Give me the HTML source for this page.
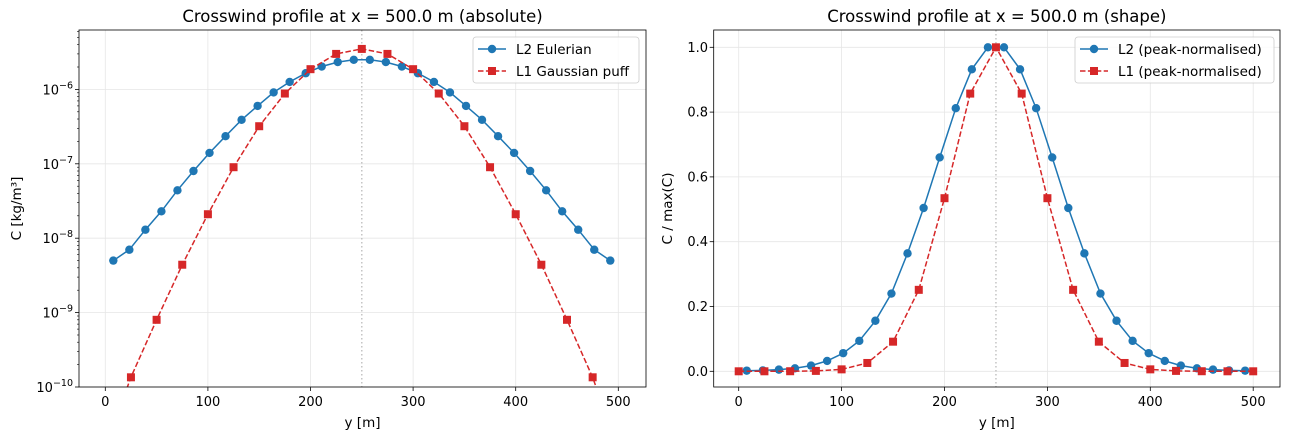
<!DOCTYPE html>
<html><head><meta charset="utf-8"><style>
html,body{margin:0;padding:0;background:#fff;}
svg{display:block;font-family:"DejaVu Sans","Liberation Sans",sans-serif;}
</style></head><body>
<svg id="s" width="1289" height="440" xmlns="http://www.w3.org/2000/svg"></svg>
<script>
const S=document.getElementById('s');let h='';
const L2y=[],L2a=[5e-9,7e-9,1.3e-8,2.3e-8,4.4e-8,8e-8,1.4e-7,2.35e-7,3.9e-7,6e-7,9.1e-7,1.26e-6,1.65e-6,2.03e-6,2.33e-6,2.5e-6];
for(let i=0;i<32;i++)L2y.push((i+0.5)*15.625);
const L2v=L2a.concat(L2a.slice().reverse());
const L1y=[];for(let i=0;i<=20;i++)L1y.push(i*25);
const L1h=[1.5e-11,1.35e-10,8e-10,4.4e-9,2.1e-8,9e-8,3.2e-7,8.8e-7,1.87e-6,3e-6,3.5e-6];
const L1v=L1h.concat(L1h.slice(0,10).reverse());
const m2=2.5e-6,m1=3.5e-6;
const BL='#1f77b4',RD='#d62728';
function panel(x0,x1,y0,y1,xmap,ymap,ticksY,clip,title,ylab,ylx,leg,v2,v1,minor){
 h+=`<clipPath id="${clip}"><rect x="${x0}" y="${y0}" width="${x1-x0}" height="${y1-y0}"/></clipPath>`;
 for(let t=0;t<=500;t+=100){const x=xmap(t);h+=`<line x1="${x}" y1="${y0}" x2="${x}" y2="${y1}" stroke="#e6e6e6" stroke-width="0.8"/>`;
  h+=`<line x1="${x}" y1="${y1}" x2="${x}" y2="${y1+4}" stroke="#000" stroke-width="0.8"/><text x="${x}" y="${y1+19}" font-size="13" text-anchor="middle">${t}</text>`;}
 ticksY.forEach(([v,lab])=>{const y=ymap(v);h+=`<line x1="${x0}" y1="${y}" x2="${x1}" y2="${y}" stroke="#e6e6e6" stroke-width="0.8"/><line x1="${x0-4}" y1="${y}" x2="${x0}" y2="${y}" stroke="#000" stroke-width="0.8"/>`;h+=lab(y);});
 if(minor)minor.forEach(y=>{h+=`<line x1="${x0-2}" y1="${y}" x2="${x0}" y2="${y}" stroke="#000" stroke-width="0.6"/>`;});
 h+=`<line x1="${xmap(250)}" y1="${y0}" x2="${xmap(250)}" y2="${y1}" stroke="#bbb" stroke-width="1.3" stroke-dasharray="1.5,2.5"/>`;
 h+=`<g clip-path="url(#${clip})">`;
 let p=L2y.map((y,i)=>xmap(y).toFixed(1)+','+ymap(v2[i]).toFixed(1)).join(' ');
 h+=`<polyline points="${p}" fill="none" stroke="${BL}" stroke-width="1.5"/>`;
 L2y.forEach((y,i)=>{h+=`<circle cx="${xmap(y)}" cy="${ymap(v2[i])}" r="4.2" fill="${BL}"/>`;});
 p=L1y.map((y,i)=>xmap(y).toFixed(1)+','+ymap(v1[i]).toFixed(1)).join(' ');
 h+=`<polyline points="${p}" fill="none" stroke="${RD}" stroke-width="1.5" stroke-dasharray="5.5,2.4"/>`;
 L1y.forEach((y,i)=>{const yy=ymap(v1[i]);h+=`<rect x="${xmap(y)-4}" y="${yy-4}" width="8" height="8" fill="${RD}"/>`;});
 h+='</g>';
 h+=`<rect x="${x0}" y="${y0}" width="${x1-x0}" height="${y1-y0}" fill="none" stroke="#000" stroke-width="0.8"/>`;
 h+=`<text x="${(x0+x1)/2}" y="${y0-8}" font-size="16.5" text-anchor="middle">${title}</text>`;
 h+=`<text x="${(x0+x1)/2}" y="${y1+40}" font-size="13.5" text-anchor="middle">y [m]</text>`;
 h+=`<text transform="translate(${ylx},${(y0+y1)/2}) rotate(-90)" font-size="13.5" text-anchor="middle" dominant-baseline="central">${ylab}</text>`;
 const lx=leg[0],lw=leg[1];
 h+=`<rect x="${lx}" y="37" width="${lw}" height="46" rx="3" fill="#fff" fill-opacity="0.8" stroke="#ccc" stroke-width="0.8"/>`;
 h+=`<line x1="${lx+5}" y1="49" x2="${lx+33}" y2="49" stroke="${BL}" stroke-width="1.5"/><circle cx="${lx+19}" cy="49" r="4.2" fill="${BL}"/>`;
 h+=`<line x1="${lx+5}" y1="71" x2="${lx+33}" y2="71" stroke="${RD}" stroke-width="1.5" stroke-dasharray="5.5,2.4"/><rect x="${lx+15}" y="67" width="8" height="8" fill="${RD}"/>`;
 h+=`<text x="${lx+43}" y="54" font-size="13.5">${leg[2]}</text><text x="${lx+43}" y="76" font-size="13.5">${leg[3]}</text>`;
}
const xmL=t=>105.3+t*1.026;
const ymL=v=>387-(Math.log10(v)+10)*74.4;
const minL=[];for(let d=-10;d<-5;d++)for(let k=2;k<10;k++){const y=ymL(k*Math.pow(10,d));if(y>=30)minL.push(y);}
panel(79,646,30,387,xmL,ymL,[-10,-9,-8,-7,-6].map(e=>[Math.pow(10,e),y=>`<text x="73" y="${y+5}" font-size="13" text-anchor="end">10<tspan font-size="9.5" dy="-6">${'\u2212'+(-e)}</tspan></text>`]),
 'cL','Crosswind profile at x = 500.0 m (absolute)','C [kg/m³]',17,[473,166,'L2 Eulerian','L1 Gaussian puff'],L2v,L1v,minL);
const xmR=t=>738.7+t*1.029;
const ymR=v=>371.3-v*324;
panel(713.7,1280,30,387,xmR,ymR,[0,0.2,0.4,0.6,0.8,1.0].map(v=>[v,y=>`<text x="708" y="${y+4.5}" font-size="13" text-anchor="end">${v.toFixed(1)}</text>`]),
 'cR','Crosswind profile at x = 500.0 m (shape)','C / max(C)',668,[1075,199,'L2 (peak-normalised)','L1 (peak-normalised)'],L2v.map(v=>v/m2),L1v.map(v=>v/m1),null);
S.innerHTML=h;
</script>
</body></html>
